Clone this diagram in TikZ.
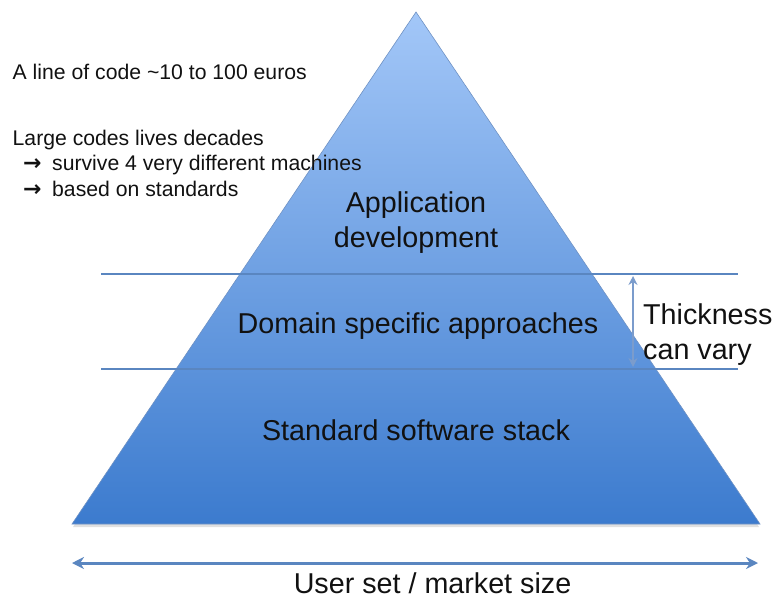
\documentclass[tikz,border=0pt]{standalone}
\usepackage{fontspec}
\setmainfont{Liberation Sans}
\newfontfamily\symfont{DejaVu Sans}
\usetikzlibrary{arrows.meta}
\definecolor{pyrtop}{HTML}{A3C7F8}
\definecolor{pyrbot}{HTML}{3C7BCE}
\definecolor{pyredge}{HTML}{6F92C4}
\definecolor{linecol}{HTML}{5A86C0}
\definecolor{arrcol}{HTML}{7B9CCC}
\definecolor{txt}{HTML}{111111}
\begin{document}
\begin{tikzpicture}[x=1pt,y=-1pt,
  big/.style={font=\fontsize{28.7}{35}\selectfont, text=txt, inner sep=0pt},
  small/.style={font=\fontsize{21.2}{26}\selectfont, text=txt, inner sep=0pt, anchor=base west},
  arrowglyph/.style={font=\symfont\fontsize{22}{26}\selectfont\bfseries, text=txt, inner sep=0pt, anchor=base west},
  layerline/.style={draw=linecol, line width=2.4pt},
  thickarrow/.style={draw=arrcol, line width=2pt, {Stealth[length=9pt,width=9pt]}-{Stealth[length=9pt,width=9pt]}},
  sizearrow/.style={draw=linecol, line width=3pt, {Stealth[length=12pt,width=12pt]}-{Stealth[length=12pt,width=12pt]}}]
\useasboundingbox (0,0) rectangle (773,599);
% pyramid
\coordinate (apex) at (416,12);
\coordinate (bl) at (72,524);
\coordinate (br) at (760,524);
\fill[black, opacity=0.12] (416,14) -- (73,527) -- (759,527) -- cycle;
\shade[top color=pyrtop, bottom color=pyrbot, draw=pyredge, line width=0.6pt] (apex) -- (bl) -- (br) -- cycle;
% layer lines
\coordinate (l1a) at (101,274);
\coordinate (l1b) at (738,274);
\coordinate (l2a) at (101,369);
\coordinate (l2b) at (738,369);
\draw[layerline] (l1a) -- (l1b);
\draw[layerline] (l2a) -- (l2b);
% thickness arrow
\coordinate (ta) at (633,276);
\coordinate (tb) at (633,367);
\draw[thickarrow] (ta) -- (tb);
% size arrow
\coordinate (sa) at (72,563);
\coordinate (sb) at (758,563);
\draw[sizearrow] (sa) -- (sb);
% texts
\node[small] (t1) at (12.5,80) {A line of code \textasciitilde10 to 100 euros};
\node[small] (t2) at (12.5,145) {Large codes lives decades};
\node[arrowglyph] (a3) at (23,170.5) {→};
\node[small] (t3) at (52,170.5) {survive 4 very different machines};
\node[arrowglyph] (a4) at (23,196) {→};
\node[small] (t4) at (52,196) {based on standards};
\node[big, align=center] (app) at (416,223) {Application\\development};
\node[big, anchor=base] (dom) at (418,333) {Domain specific approaches};
\node[big, anchor=base] (std) at (416,440) {Standard software stack};
\node[big, align=left, anchor=west] (thk) at (643,335) {Thickness\\can vary};
\node[big, anchor=base] (usr) at (432.5,593) {User set / market size};
\end{tikzpicture}
\end{document}
